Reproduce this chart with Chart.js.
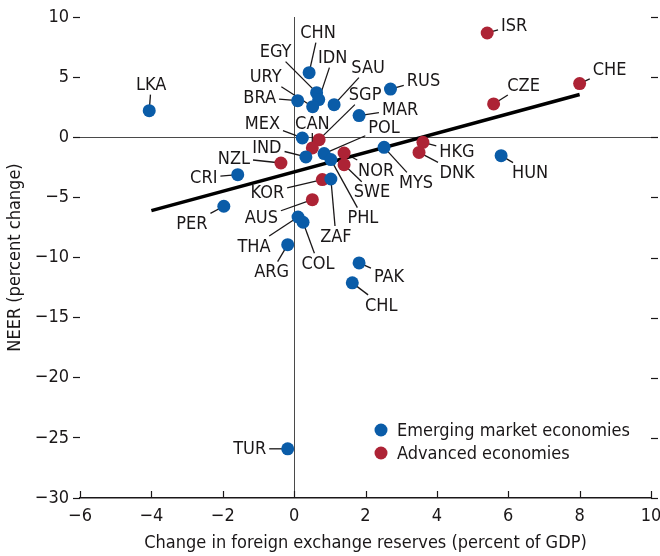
<!DOCTYPE html>
<html>
<head>
<meta charset="utf-8">
<script src="https://cdn.jsdelivr.net/npm/chart.js@4/dist/chart.umd.min.js"></script>
<style>
  html, body { margin: 0; padding: 0; background: #fff; }
  #wrap { width: 660px; height: 556px; }
</style>
</head>
<body>
<div id="wrap"><canvas id="chart"></canvas></div>
<script>
// Emerging market economies
const emergingCodes = ['LKA', 'TUR', 'HUN', 'RUS', 'MYS', 'MAR', 'CHN', 'EGY', 'IDN', 'URY', 'BRA', 'SAU',
  'MEX', 'POL', 'IND', 'CRI', 'PHL', 'ZAF', 'THA', 'COL', 'ARG', 'PAK', 'CHL', 'PER'];
const emergingX = [-4.06, -0.18, 5.80, 2.70, 2.52, 1.82, 0.42, 0.63, 0.69, 0.52, 0.10, 1.12,
  0.23, 0.84, 0.33, -1.58, 1.03, 1.03, 0.11, 0.25, -0.18, 1.82, 1.63, -1.97];
const emergingY = [2.21, -25.91, -1.53, 4.01, -0.84, 1.80, 5.37, 3.71, 3.13, 2.54, 3.04, 2.71,
  -0.06, -1.36, -1.64, -3.11, -1.86, -3.47, -6.63, -7.07, -8.93, -10.45, -12.11, -5.74];

// Advanced economies
const advancedCodes = ['ISR', 'CZE', 'CHE', 'HKG', 'DNK', 'SGP', 'CAN', 'NZL', 'NOR', 'SWE', 'KOR', 'AUS'];
const advancedX = [5.41, 5.59, 8.00, 3.61, 3.50, 0.70, 0.51, -0.37, 1.40, 1.40, 0.79, 0.51];
const advancedY = [8.67, 2.77, 4.46, -0.42, -1.26, -0.20, -0.89, -2.14, -1.31, -2.28, -3.52, -5.19];

// Fitted line (end points)
const fitX = [-4, 8];
const fitY = [-6.1, 3.55];

const xTicks = [-6, -4, -2, 0, 2, 4, 6, 8, 10];
const yTicks = [-30, -25, -20, -15, -10, -5, 0, 5, 10];

const BLUE = '#0a5ca8';
const RED = '#ad2335';
const INK = '#1a1718';
const FONT = "'Liberation Sans Narrow', 'DejaVu Sans Condensed', sans-serif";

// position of each label centre relative to its dot, in pixels
const labelOffsets = {
  LKA: [2, -26], TUR: [-38, 0], ISR: [27, -8], CZE: [30, -19], CHE: [30, -14],
  HKG: [34, 9], DNK: [38, 20], HUN: [29, 17], RUS: [33, -9], MYS: [32, 35],
  MAR: [41, -6], CHN: [9, -40], EGY: [-41, -41], IDN: [14, -42], URY: [-47, -30],
  BRA: [-38, -3], SAU: [34, -37], SGP: [46, -45], MEX: [-40, -15], CAN: [0, -25],
  POL: [60, -26], IND: [-39, -10], NZL: [-47, -5], CRI: [-34, 3], NOR: [32, 17],
  SWE: [28, 27], PHL: [32, 58], ZAF: [5, 57], KOR: [-55, 13], AUS: [-51, 18],
  THA: [-44, 29], COL: [15, 41], ARG: [-16, 27], PAK: [30, 13], CHL: [29, 22],
  PER: [-32, 17]
};

function toPoints(xs, ys) {
  return xs.map((x, i) => ({ x: x, y: ys[i] }));
}

function labelItems(chart) {
  const items = [];
  const ctx = chart.ctx;
  ctx.font = '18px ' + FONT;
  [0, 1].forEach(di => {
    const codes = di === 0 ? emergingCodes : advancedCodes;
    chart.getDatasetMeta(di).data.forEach((pt, i) => {
      const code = codes[i];
      const off = labelOffsets[code] || [0, -20];
      items.push({ code: code, px: pt.x, py: pt.y, lx: pt.x + off[0], ly: pt.y + off[1],
        w: ctx.measureText(code).width });
    });
  });
  return items;
}

// Leader lines under the dots, text on top
const labelPlugin = {
  id: 'labels',
  beforeDatasetsDraw(chart) {
    const ctx = chart.ctx;
    ctx.save();
    ctx.strokeStyle = INK;
    ctx.lineWidth = 1.3;
    labelItems(chart).forEach(it => {
      const vx = it.px - it.lx, vy = it.py - it.ly;
      const hw = it.w / 2 + 3, hh = 10;
      const s = Math.min(vx ? hw / Math.abs(vx) : Infinity, vy ? hh / Math.abs(vy) : Infinity);
      if (s >= 1) return;
      ctx.beginPath();
      ctx.moveTo(it.lx + vx * s, it.ly + vy * s);
      ctx.lineTo(it.px, it.py);
      ctx.stroke();
    });
    ctx.restore();
  },
  afterDatasetsDraw(chart) {
    const ctx = chart.ctx;
    ctx.save();
    ctx.font = '18px ' + FONT;
    ctx.fillStyle = INK;
    ctx.textAlign = 'center';
    ctx.textBaseline = 'middle';
    labelItems(chart).forEach(it => ctx.fillText(it.code, it.lx, it.ly + 1));
    ctx.restore();
  },
  afterDraw(chart) {
    const ctx = chart.ctx;
    const area = chart.chartArea;
    const xs = chart.scales.x, ys = chart.scales.y;
    ctx.save();
    ctx.strokeStyle = INK;
    ctx.lineWidth = 1.2;
    // inward ticks on the bottom axis
    xTicks.forEach(v => {
      const p = Math.round(xs.getPixelForValue(v)) + 0.5;
      ctx.beginPath();
      ctx.moveTo(p, area.bottom);
      ctx.lineTo(p, area.bottom - 7);
      ctx.stroke();
    });
    // ticks on the right side
    yTicks.forEach(v => {
      const p = Math.round(ys.getPixelForValue(v)) + 0.5;
      ctx.beginPath();
      ctx.moveTo(area.right, p);
      ctx.lineTo(area.right + 7, p);
      ctx.stroke();
    });
    // legend
    ctx.font = '18px ' + FONT;
    ctx.textAlign = 'left';
    ctx.textBaseline = 'middle';
    [[BLUE, 'Emerging market economies', 430], [RED, 'Advanced economies', 453]].forEach(r => {
      ctx.fillStyle = r[0];
      ctx.beginPath();
      ctx.arc(381, r[2], 6.5, 0, Math.PI * 2);
      ctx.fill();
      ctx.fillStyle = INK;
      ctx.fillText(r[1], 397, r[2] + 1);
    });
    ctx.restore();
  }
};

const minus = v => (v < 0 ? '\u2212' + Math.abs(v) : String(v));
const zeroLine = c => (c.tick && c.tick.value === 0 ? '#4a4a4a' : 'rgba(0,0,0,0)');

Chart.defaults.font.family = FONT;
Chart.defaults.font.size = 18;
Chart.defaults.color = INK;

new Chart(document.getElementById('chart'), {
  type: 'scatter',
  data: {
    datasets: [
      {
        label: 'Emerging market economies',
        data: toPoints(emergingX, emergingY),
        backgroundColor: BLUE,
        pointRadius: 6.5,
        pointBorderWidth: 0,
        order: 1
      },
      {
        label: 'Advanced economies',
        data: toPoints(advancedX, advancedY),
        backgroundColor: RED,
        pointRadius: 6.5,
        pointBorderWidth: 0,
        order: 2
      },
      {
        type: 'line',
        label: 'Fit',
        data: toPoints(fitX, fitY),
        borderColor: '#000',
        borderWidth: 3.5,
        pointRadius: 0,
        fill: false,
        order: 3
      }
    ]
  },
  options: {
    responsive: true,
    maintainAspectRatio: false,
    animation: false,
    layout: { padding: { top: 17, right: 9 } },
    plugins: {
      legend: { display: false },
      tooltip: { enabled: false }
    },
    scales: {
      x: {
        type: 'linear',
        min: -6,
        max: 10,
        afterBuildTicks: s => { s.ticks = xTicks.map(v => ({ value: v })); },
        afterFit: s => { s.height = 58; s.paddingLeft = 0; s.paddingRight = 0; },
        ticks: { callback: minus, padding: 8, maxRotation: 0 },
        grid: { color: zeroLine, lineWidth: 1, drawTicks: false },
        border: { display: true, color: INK, width: 1.5 },
        title: {
          display: true,
          text: 'Change in foreign exchange reserves (percent of GDP)',
          padding: { top: 0, bottom: 2 }
        }
      },
      y: {
        type: 'linear',
        min: -30,
        max: 10,
        afterBuildTicks: s => { s.ticks = yTicks.map(v => ({ value: v })); },
        afterFit: s => { s.width = 80; s.paddingTop = 0; s.paddingBottom = 0; },
        ticks: { callback: minus, padding: 4 },
        grid: { color: zeroLine, lineWidth: 1, drawTicks: true, tickLength: 7, tickColor: INK, tickWidth: 1.2 },
        border: { display: false },
        title: {
          display: true,
          text: 'NEER (percent change)',
          padding: { top: 5, bottom: 0 }
        }
      }
    }
  },
  plugins: [labelPlugin]
});
</script>
</body>
</html>
